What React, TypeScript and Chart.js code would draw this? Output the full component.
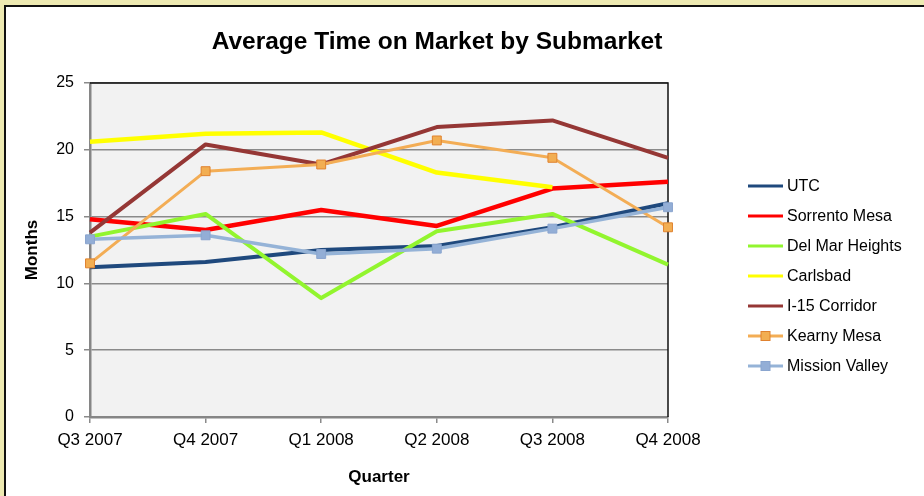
import React, { useEffect, useRef } from 'react';
import { Chart, registerables } from 'chart.js';

Chart.register(...registerables);

const quarters = ['Q3 2007', 'Q4 2007', 'Q1 2008', 'Q2 2008', 'Q3 2008', 'Q4 2008'];
const seriesNames = ['UTC', 'Sorrento Mesa', 'Del Mar Heights', 'Carlsbad', 'I-15 Corridor', 'Kearny Mesa', 'Mission Valley'];
const utc = [11.2, 11.6, 12.5, 12.8, 14.2, 16.0];
const sorrentoMesa = [14.8, 14.0, 15.5, 14.3, 17.1, 17.6];
const delMarHeights = [13.5, 15.2, 8.9, 13.9, 15.2, 11.4];
const carlsbad = [20.6, 21.2, 21.3, 18.3, 17.2, null];
const i15Corridor = [13.8, 20.4, 18.9, 21.7, 22.2, 19.4];
const kearnyMesa = [11.5, 18.4, 18.9, 20.7, 19.4, 14.2];
const missionValley = [13.3, 13.6, 12.2, 12.6, 14.1, 15.7];
const seriesValues = [utc, sorrentoMesa, delMarHeights, carlsbad, i15Corridor, kearnyMesa, missionValley];
const seriesColors = ['#1F497D', '#FF0000', '#92F52E', '#FFFF00', '#953735', '#F3AD55', '#95B3D7'];
const seriesWidths = [4, 4.5, 4, 4.5, 4, 3, 3.5];
const seriesMarkers = [false, false, false, false, false, true, true];
const markerFill = ['', '', '', '', '', '#F2AE52', '#93AED6'];
const markerEdge = ['', '', '', '', '', '#E0822F', '#8AA5CF'];

const yMin = 0;
const yMax = 25;
const yStep = 5;

const FONT = '"Liberation Sans", Arial, sans-serif';

const plotFrame = {
  id: 'plotFrame',
  beforeDraw(chart: any) {
    const { ctx, chartArea } = chart;
    const { left, top, right, bottom } = chartArea;
    ctx.save();
    ctx.fillStyle = '#F2F2F2';
    ctx.fillRect(left, top, right - left, bottom - top);
    ctx.restore();
  },
  beforeDatasetsDraw(chart: any) {
    const { ctx, chartArea } = chart;
    const { left, top, right, bottom } = chartArea;
    ctx.save();
    ctx.strokeStyle = '#111111';
    ctx.lineWidth = 1.5;
    ctx.beginPath();
    ctx.moveTo(left, top);
    ctx.lineTo(right, top);
    ctx.lineTo(right, bottom);
    ctx.stroke();
    ctx.restore();
  },
};

const sideLegend = {
  id: 'sideLegend',
  afterDraw(chart: any) {
    const { ctx, chartArea } = chart;
    const x0 = chartArea.right + 80;
    const x1 = x0 + 35;
    const yStart = chartArea.top + 103;
    ctx.save();
    chart.data.datasets.forEach((ds: any, i: number) => {
      const y = yStart + 30 * i;
      ctx.strokeStyle = ds.borderColor;
      ctx.lineWidth = 3;
      ctx.beginPath();
      ctx.moveTo(x0, y);
      ctx.lineTo(x1, y);
      ctx.stroke();
      if (ds.pointRadius > 0) {
        const s = 9;
        const cx = (x0 + x1) / 2;
        ctx.fillStyle = ds.pointBackgroundColor;
        ctx.strokeStyle = ds.pointBorderColor;
        ctx.lineWidth = 1;
        ctx.fillRect(cx - s / 2, y - s / 2, s, s);
        ctx.strokeRect(cx - s / 2, y - s / 2, s, s);
      }
      ctx.fillStyle = '#000000';
      ctx.font = `16px ${FONT}`;
      ctx.textAlign = 'left';
      ctx.textBaseline = 'middle';
      ctx.fillText(ds.label, x1 + 4, y + 1);
    });
    ctx.restore();
  },
};

export default function App() {
  const canvasRef = useRef<HTMLCanvasElement | null>(null);

  useEffect(() => {
    const canvas = canvasRef.current;
    if (!canvas) return;
    const datasets = seriesNames.map((name, i) => ({
      label: name,
      data: seriesValues[i],
      borderColor: seriesColors[i],
      backgroundColor: seriesColors[i],
      borderWidth: seriesWidths[i],
      tension: 0,
      fill: false,
      clip: false as any,
      order: seriesNames.length - i,
      borderJoinStyle: 'round' as const,
      pointStyle: 'rect' as const,
      pointRadius: seriesMarkers[i] ? 6.3 : 0,
      pointHoverRadius: seriesMarkers[i] ? 6.3 : 0,
      pointBackgroundColor: markerFill[i] || seriesColors[i],
      pointBorderColor: markerEdge[i] || seriesColors[i],
      pointBorderWidth: 1,
    }));

    const chart = new Chart(canvas, {
      type: 'line',
      data: { labels: quarters, datasets },
      options: {
        responsive: false,
        animation: false,
        events: [],
        layout: { padding: { left: 0, right: 50, top: 0, bottom: 0 } },
        plugins: {
          legend: { display: false },
          tooltip: { enabled: false },
          title: {
            display: true,
            text: 'Average Time on Market by Submarket',
            color: '#000000',
            font: { family: FONT, size: 24.5, weight: 'bold' },
            padding: { top: 27.3, bottom: 26.3 },
          },
        },
        scales: {
          x: {
            type: 'category',
            offset: false,
            afterFit(s: any) { s.height = 79; },
            grid: {
              display: true,
              drawOnChartArea: false,
              drawTicks: true,
              tickLength: 6,
              color: '#8A8A8A',
              lineWidth: 1.5,
            },
            border: { display: true, color: '#868686', width: 2.5 },
            ticks: {
              color: '#000000',
              font: { family: FONT, size: 17 },
              padding: 7,
              maxRotation: 0,
              autoSkip: false,
            },
            title: {
              display: true,
              text: 'Quarter',
              color: '#000000',
              font: { family: FONT, size: 17, weight: 'bold' },
              padding: { top: 0, bottom: 8 },
            },
          },
          y: {
            type: 'linear',
            min: yMin,
            max: yMax,
            afterFit(s: any) { s.width = 90; },
            grid: {
              display: true,
              drawOnChartArea: true,
              drawTicks: true,
              tickLength: 6,
              color: '#8A8A8A',
              lineWidth: 1.5,
            },
            border: { display: true, color: '#868686', width: 2.5 },
            ticks: {
              stepSize: yStep,
              color: '#000000',
              font: { family: FONT, size: 16 },
              padding: 10,
            },
            title: {
              display: true,
              text: 'Months',
              color: '#000000',
              font: { family: FONT, size: 17, weight: 'bold' },
              padding: { top: 22, bottom: 0 },
            },
          },
          yRightSpace: {
            type: 'linear',
            position: 'right',
            display: true,
            afterFit(s: any) { s.width = 206; },
            grid: { display: false },
            border: { display: false },
            ticks: { display: false },
          },
        },
      } as any,
      plugins: [plotFrame, sideLegend],
    });
    return () => chart.destroy();
  }, []);

  return (
    <div style={{ position: 'fixed', left: 0, top: 0, width: 924, height: 496, overflow: 'hidden', background: '#EEEAB2' }}>
      <div style={{ position: 'absolute', left: 4, top: 5, width: 960, height: 540, background: '#FFFFFF', borderTop: '2px solid #111111', borderLeft: '2px solid #111111' }} />
      <canvas ref={canvasRef} width={924} height={496} style={{ position: 'absolute', left: 0, top: 0, width: 924, height: 496 }} />
    </div>
  );
}
